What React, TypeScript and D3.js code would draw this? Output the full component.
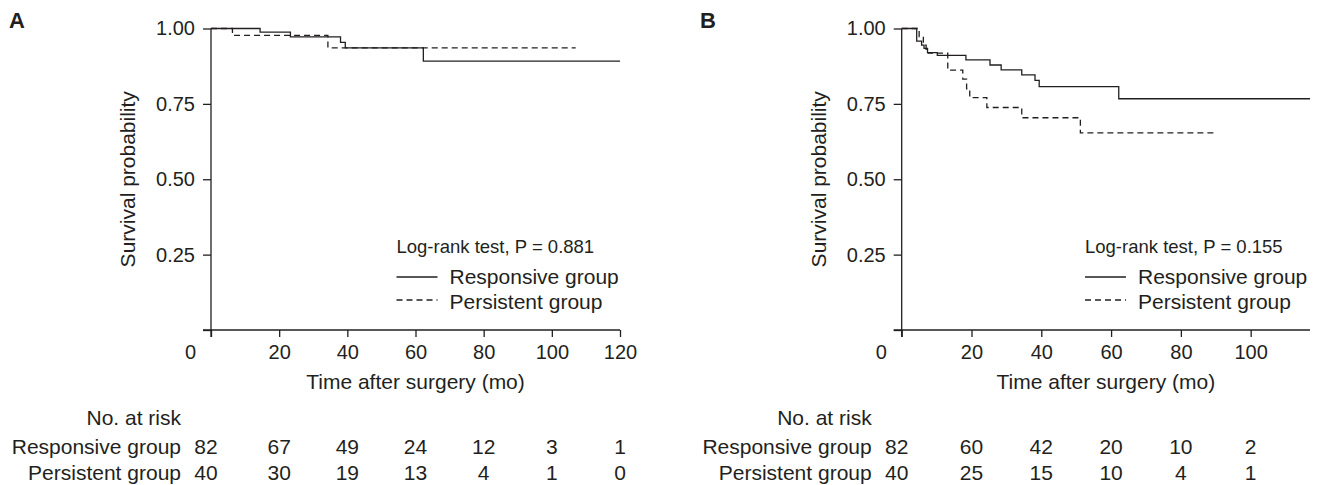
import React, { useEffect, useRef } from "react";
import * as d3 from "d3";

// Panel A: Kaplan-Meier steps (time in months, survival probability)
const aRespTime = [0, 14.4, 23.3, 38.0, 39.4, 62.3, 120];
const aRespSurv = [1, 0.988, 0.972, 0.954, 0.936, 0.892, 0.892];
const aPersTime = [0, 6.3, 34.3, 107];
const aPersSurv = [1, 0.977, 0.936, 0.936];

// Panel B
const bRespTime = [0, 4.3, 5.7, 6.4, 7.4, 10.2, 18.4, 25.3, 28.5, 34.4, 38.2, 39.4, 62.2, 117];
const bRespSurv = [1, 0.958, 0.945, 0.934, 0.92, 0.911, 0.896, 0.879, 0.863, 0.846, 0.828, 0.807, 0.767, 0.767];
const bPersTime = [0, 5.0, 6.2, 7.0, 7.6, 13.2, 17.5, 18.6, 19.5, 24.4, 34.4, 51.2, 89.7];
const bPersSurv = [1, 0.973, 0.945, 0.931, 0.918, 0.862, 0.832, 0.8, 0.771, 0.738, 0.704, 0.654, 0.654];

const yTicks = [0, 0.25, 0.5, 0.75, 1];
const aXTicks = [0, 20, 40, 60, 80, 100, 120];
const bXTicks = [0, 20, 40, 60, 80, 100];

// numbers at risk
const aRiskResp = [82, 67, 49, 24, 12, 3, 1];
const aRiskPers = [40, 30, 19, 13, 4, 1, 0];
const bRiskResp = [82, 60, 42, 20, 10, 2];
const bRiskPers = [40, 25, 15, 10, 4, 1];

const aPValue = "0.881";
const bPValue = "0.155";

const FONT = "'Liberation Sans', Arial, sans-serif";
const INK = "#231f20";

type Panel = {
  letter: string;
  letterX: number;
  x0: number;
  x1: number;
  maxT: number;
  xTicks: number[];
  resp: [number[], number[]];
  pers: [number[], number[]];
  riskResp: number[];
  riskPers: number[];
  p: string;
};

const panels: Panel[] = [
  { letter: "A", letterX: 9, x0: 211, x1: 620, maxT: 120, xTicks: aXTicks,
    resp: [aRespTime, aRespSurv], pers: [aPersTime, aPersSurv],
    riskResp: aRiskResp, riskPers: aRiskPers, p: aPValue },
  { letter: "B", letterX: 700, x0: 901.7, x1: 1310, maxT: 117, xTicks: bXTicks,
    resp: [bRespTime, bRespSurv], pers: [bPersTime, bPersSurv],
    riskResp: bRiskResp, riskPers: bRiskPers, p: bPValue },
];

function drawPanel(svg: any, cfg: Panel) {
  const x = d3.scaleLinear().domain([0, cfg.maxT]).range([cfg.x0, cfg.x1]);
  const y = d3.scaleLinear().domain([0, 1]).range([330, 28.5]);
  const g = svg.append("g").attr("font-family", FONT).attr("fill", INK);

  g.append("text").attr("x", cfg.letterX).attr("y", 28)
    .attr("font-size", 22).attr("font-weight", "bold").text(cfg.letter);

  // y axis (no label at 0)
  const ya = g.append("g").attr("transform", `translate(${cfg.x0},0)`)
    .call(d3.axisLeft(y).tickValues(yTicks)
      .tickFormat((d: number) => (d === 0 ? "" : d3.format(".2f")(d)))
      .tickSize(8).tickPadding(8).tickSizeOuter(0));
  ya.select(".domain").attr("stroke", INK).attr("stroke-width", 1.3)
    .attr("d", `M0,${y(1)}V${y(0) + 7}`);
  ya.selectAll(".tick line").attr("stroke", INK).attr("stroke-width", 1.3);
  ya.selectAll("text").attr("font-size", 20).attr("fill", INK).attr("font-family", FONT);

  // x axis
  const xa = g.append("g").attr("transform", `translate(0,${y(0)})`)
    .call(d3.axisBottom(x).tickValues(cfg.xTicks).tickSize(7).tickPadding(8).tickSizeOuter(0));
  xa.select(".domain").attr("stroke", INK).attr("stroke-width", 1.3)
    .attr("d", `M${cfg.x0 - 8},0H${cfg.x1}`);
  xa.selectAll(".tick line").attr("stroke", INK).attr("stroke-width", 1.3);
  xa.selectAll("text").attr("font-size", 20).attr("fill", INK).attr("font-family", FONT)
    .attr("dx", (d: number) => (d === 0 ? -21 : 0));

  g.append("text").attr("x", (cfg.x0 + cfg.x1) / 2).attr("y", 389)
    .attr("text-anchor", "middle").attr("font-size", 21).text("Time after surgery (mo)");
  g.append("text").attr("transform", `translate(${cfg.x0 - 76},${(y(0) + y(1)) / 2}) rotate(-90)`)
    .attr("text-anchor", "middle").attr("font-size", 21).text("Survival probability");

  // curves
  const line = d3.line<[number, number]>().x(d => x(d[0])).y(d => y(d[1])).curve(d3.curveStepAfter);
  const pts = (s: [number[], number[]]) => s[0].map((t, i) => [t, s[1][i]] as [number, number]);
  g.append("path").attr("d", line(pts(cfg.pers))).attr("fill", "none")
    .attr("stroke", INK).attr("stroke-width", 1.3).attr("stroke-dasharray", "6,4");
  g.append("path").attr("d", line(pts(cfg.resp))).attr("fill", "none")
    .attr("stroke", INK).attr("stroke-width", 1.3);

  // legend
  const lx = cfg.x0 + (cfg.letter === "A" ? 185.5 : 183.3);
  g.append("text").attr("x", lx).attr("y", 253).attr("font-size", 18.5)
    .text(`Log-rank test, P = ${cfg.p}`);
  g.append("line").attr("x1", lx).attr("x2", lx + 41).attr("y1", 277).attr("y2", 277)
    .attr("stroke", INK).attr("stroke-width", 1.3);
  g.append("line").attr("x1", lx).attr("x2", lx + 41).attr("y1", 300).attr("y2", 300)
    .attr("stroke", INK).attr("stroke-width", 1.3).attr("stroke-dasharray", "6,4");
  g.append("text").attr("x", lx + 53).attr("y", 284).attr("font-size", 21).text("Responsive group");
  g.append("text").attr("x", lx + 53).attr("y", 309).attr("font-size", 21).text("Persistent group");

  // number at risk table
  const labX = cfg.x0 - 30;
  g.append("text").attr("x", labX).attr("y", 425).attr("text-anchor", "end")
    .attr("font-size", 21).text("No. at risk");
  const rows: [string, number[], number][] = [
    ["Responsive group", cfg.riskResp, 454],
    ["Persistent group", cfg.riskPers, 480],
  ];
  rows.forEach(([name, vals, yy]) => {
    g.append("text").attr("x", labX).attr("y", yy).attr("text-anchor", "end")
      .attr("font-size", 21).text(name);
    g.selectAll(null).data(vals).enter().append("text")
      .attr("x", (d: number, i: number) => x(cfg.xTicks[i]) + (i === 0 ? -5 : 0))
      .attr("y", yy).attr("text-anchor", "middle").attr("font-size", 21)
      .text((d: number) => d);
  });
}

export default function App() {
  const ref = useRef<SVGSVGElement>(null);
  useEffect(() => {
    document.body.style.margin = "0";
    const svg = d3.select(ref.current);
    svg.selectAll("*").remove();
    panels.forEach(p => drawPanel(svg, p));
  }, []);
  return <svg ref={ref} width={1322} height={485} style={{ display: "block", background: "#fff" }} />;
}
